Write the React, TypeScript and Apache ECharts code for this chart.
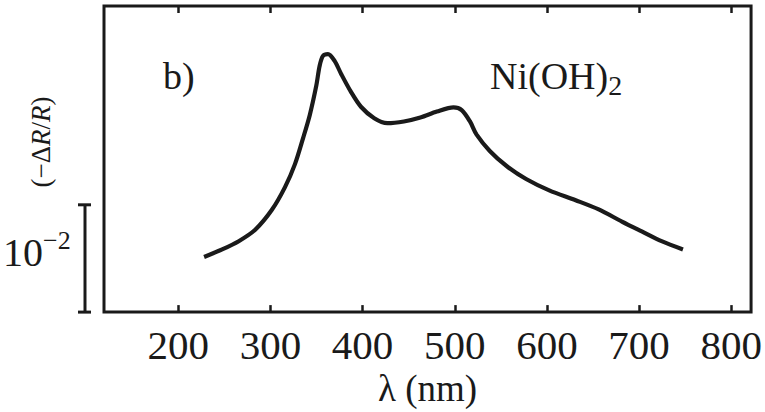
import React, { useEffect, useRef } from "react";
import * as echarts from "echarts";

const wavelengths = [228, 247.6, 265.6, 283.5, 301.4, 315.8, 326.6, 335.5, 342.7, 349.8, 353.4, 357.0, 362.4, 369.6, 376.7, 387.4, 398.2, 412.6, 426.9, 444.8, 462.7, 480.6, 498.6, 507.5, 516.5, 523.7, 538.0, 555.9, 577.4, 602.5, 631.2, 656.2, 681.4, 702.9, 724.4, 747.6];
const signal = [0.514, 0.584, 0.661, 0.768, 0.951, 1.165, 1.379, 1.624, 1.838, 2.113, 2.296, 2.388, 2.404, 2.342, 2.22, 2.052, 1.914, 1.807, 1.761, 1.777, 1.814, 1.869, 1.908, 1.883, 1.777, 1.654, 1.502, 1.364, 1.241, 1.135, 1.043, 0.957, 0.844, 0.752, 0.661, 0.584];
const xTicks = [200, 300, 400, 500, 600, 700, 800];
const scaleBar = [0, 1]; // one unit = 10^-2

const FONT = "'Liberation Serif', serif";
const INK = "#1a1a1a";

export default function App() {
  const ref = useRef<HTMLDivElement>(null);
  useEffect(() => {
    const chart = echarts.init(ref.current!, null, { renderer: "svg" });
    const tickStyle = {
      show: true,
      inside: true,
      length: 7,
      customValues: xTicks,
      lineStyle: { color: INK, width: 2.5 },
    };
    chart.setOption({
      animation: false,
      grid: {
        left: 104,
        right: 8,
        top: 6,
        bottom: 95,
        show: true,
        borderColor: INK,
        borderWidth: 3,
        backgroundColor: "transparent",
      },
      xAxis: [
        {
          type: "value",
          min: 119.4,
          max: 821.5,
          axisLine: { show: false },
          axisTick: tickStyle,
          splitLine: { show: false },
          axisLabel: {
            customValues: xTicks,
            fontFamily: FONT,
            fontSize: 41,
            color: INK,
            margin: 12,
          },
          name: "λ (nm)",
          nameLocation: "middle",
          nameGap: 56,
          nameTextStyle: { fontFamily: FONT, fontSize: 37, color: INK },
        },
        {
          type: "value",
          position: "top",
          min: 119.4,
          max: 821.5,
          axisLine: { show: false },
          axisTick: tickStyle,
          splitLine: { show: false },
          axisLabel: { show: false },
        },
      ],
      yAxis: {
        type: "value",
        min: 0,
        max: 2.853,
        show: false,
      },
      series: [
        {
          type: "line",
          data: wavelengths.map((w, i) => [w, signal[i]]),
          smooth: 0.3,
          showSymbol: false,
          lineStyle: { color: INK, width: 4.2 },
        },
      ],
    });
    const yA = chart.convertToPixel({ yAxisIndex: 0 }, scaleBar[0]) as number;
    const yB = chart.convertToPixel({ yAxisIndex: 0 }, scaleBar[1]) as number;
    const bx = 85;
    chart.setOption({
      graphic: [
        { type: "line", shape: { x1: bx, y1: yA, x2: bx, y2: yB }, style: { stroke: INK, lineWidth: 3 } },
        { type: "line", shape: { x1: bx - 7, y1: yA, x2: bx + 6, y2: yA }, style: { stroke: INK, lineWidth: 3 } },
        { type: "line", shape: { x1: bx - 7, y1: yB, x2: bx + 6, y2: yB }, style: { stroke: INK, lineWidth: 3 } },
        {
          type: "text",
          x: 3,
          y: (yA + yB) / 2 - 6,
          style: {
            text: "{a|10}{s|−2}",
            verticalAlign: "middle",
            rich: {
              a: { fontFamily: FONT, fontSize: 40, fill: INK },
              s: { fontFamily: FONT, fontSize: 26, fill: INK, padding: [0, 0, 24, 0] },
            },
          },
        },
        {
          type: "text",
          x: 41,
          y: 142,
          rotation: Math.PI / 2,
          style: {
            text: "(−Δ{i|R}/{i|R})",
            align: "center",
            verticalAlign: "middle",
            fontFamily: FONT,
            fontSize: 27,
            fill: INK,
            rich: { i: { fontFamily: FONT, fontSize: 27, fontStyle: "italic", fill: INK } },
          },
        },
        {
          type: "text",
          x: 163,
          y: 76,
          style: { text: "b)", fontFamily: FONT, fontSize: 38, fill: INK, verticalAlign: "middle" },
        },
        {
          type: "text",
          x: 490,
          y: 76,
          style: {
            text: "{a|Ni(OH)}{s|2}",
            verticalAlign: "middle",
            rich: {
              a: { fontFamily: FONT, fontSize: 38, fill: INK },
              s: { fontFamily: FONT, fontSize: 28, fill: INK, padding: [18, 0, 0, 0] },
            },
          },
        },
      ],
    });
    return () => chart.dispose();
  }, []);
  return (
    <div
      ref={ref}
      style={{ position: "fixed", left: 0, top: 0, width: 765, height: 412, background: "#fff" }}
    />
  );
}
